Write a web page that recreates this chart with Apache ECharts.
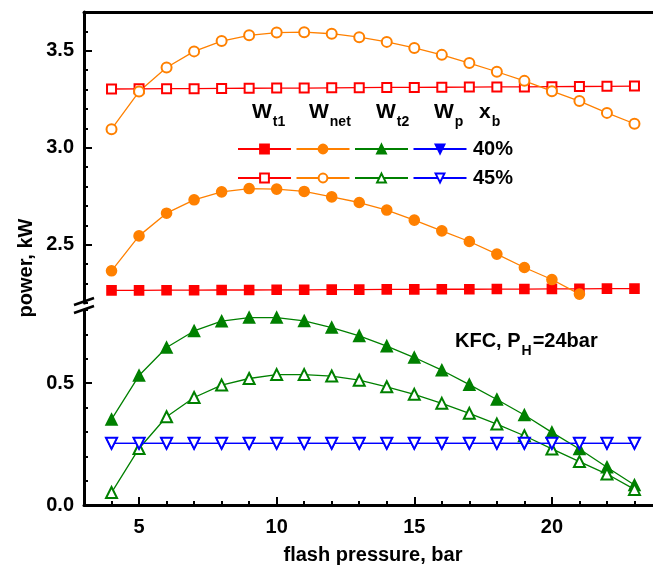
<!DOCTYPE html>
<html>
<head>
<meta charset="utf-8">
<script src="https://cdn.jsdelivr.net/npm/echarts@6/dist/echarts.min.js"></script>
<style>
html, body { margin: 0; padding: 0; background: #fff; }
#main { width: 653px; height: 579px; }
</style>
</head>
<body>
<div id="main"></div>
<script>
// flash pressure, bar
var pressure = [4, 5, 6, 7, 8, 9, 10, 11, 12, 13, 14, 15, 16, 17, 18, 19, 20, 21, 22, 23];

// upper panel (kW)
var wt1_40 = [2.265, 2.265, 2.266, 2.266, 2.267, 2.267, 2.268, 2.268, 2.269, 2.269, 2.270, 2.270, 2.271, 2.271, 2.272, 2.272, 2.273, 2.273, 2.274, 2.274];
var wt1_45 = [3.303, 3.304, 3.305, 3.305, 3.306, 3.307, 3.308, 3.308, 3.309, 3.310, 3.311, 3.311, 3.312, 3.313, 3.314, 3.314, 3.315, 3.316, 3.317, 3.318];
var wnet_40 = [2.366, 2.546, 2.663, 2.732, 2.773, 2.790, 2.787, 2.775, 2.747, 2.718, 2.679, 2.627, 2.572, 2.517, 2.452, 2.383, 2.321, 2.246];
var wnet_45 = [3.096, 3.290, 3.414, 3.497, 3.550, 3.580, 3.594, 3.596, 3.588, 3.570, 3.546, 3.515, 3.479, 3.437, 3.392, 3.345, 3.292, 3.241, 3.180, 3.124];

// lower panel (kW)
var wt2_40 = [0.351, 0.531, 0.646, 0.714, 0.754, 0.769, 0.769, 0.755, 0.728, 0.694, 0.652, 0.605, 0.553, 0.494, 0.433, 0.369, 0.298, 0.230, 0.155, 0.082];
var wt2_45 = [0.051, 0.232, 0.362, 0.441, 0.492, 0.519, 0.535, 0.535, 0.529, 0.512, 0.485, 0.454, 0.417, 0.376, 0.332, 0.284, 0.230, 0.178, 0.127, 0.064];
var wp_40 = [0.253, 0.253, 0.253, 0.253, 0.253, 0.253, 0.253, 0.253, 0.253, 0.253, 0.253, 0.253, 0.253, 0.253, 0.253, 0.253, 0.253, 0.253, 0.253, 0.253];
var wp_45 = [0.253, 0.253, 0.253, 0.253, 0.253, 0.253, 0.253, 0.253, 0.253, 0.253, 0.253, 0.253, 0.253, 0.253, 0.253, 0.253, 0.253, 0.253, 0.253, 0.253];

var xTicks = [5, 10, 15, 20];
var yTicksTop = [2.5, 3.0, 3.5];
var yTicksBottom = [0, 0.5];

var FONT = 'Liberation Sans, Arial, sans-serif';
var RED = '#ff0000', ORANGE = '#ff8000', GREEN = '#008000', BLUE = '#0000ff';

var ctx = document.createElement('canvas').getContext('2d');
function textW(t, font) {
    ctx.font = font;
    return ctx.measureText(t).width;
}

function pairs(ys) {
    return ys.map(function (y, i) { return [pressure[i], y]; });
}

function line(name, ys, grid, color, symbol, size, rotate) {
    return {
        name: name,
        type: 'line',
        xAxisIndex: grid,
        yAxisIndex: grid * 2,
        data: pairs(ys),
        symbol: symbol,
        symbolSize: size,
        symbolRotate: rotate || 0,
        showAllSymbol: true,
        lineStyle: { color: color, width: 1.3 },
        itemStyle: { color: color, borderColor: color, borderWidth: 1.6 },
        emphasis: { disabled: true }
    };
}

var labelStyle = { color: '#000', fontFamily: FONT, fontWeight: 'bold', fontSize: 20 };

function yAxes(grid, min, max, ticks) {
    return [{
        type: 'value', gridIndex: grid, min: min, max: max, interval: 0.1,
        axisLine: { show: true, onZero: false, lineStyle: { color: '#000', width: 3 } },
        axisTick: { show: true, inside: true, length: 4, lineStyle: { color: '#000', width: 2 } },
        axisLabel: Object.assign({ customValues: ticks, margin: 10, formatter: function (v) { return v.toFixed(1); } }, labelStyle),
        splitLine: { show: false }
    }, {
        type: 'value', gridIndex: grid, min: min, max: max, position: 'left',
        axisLine: { show: false },
        axisTick: { show: true, inside: true, length: 8, customValues: ticks, lineStyle: { color: '#000', width: 2 } },
        axisLabel: { show: false },
        splitLine: { show: false }
    }];
}

// text with a subscript, parts placed one after another
function subText(x, y, main, s, tail, big, small) {
    var bigFont = 'bold ' + big + 'px ' + FONT;
    var smallFont = 'bold ' + small + 'px ' + FONT;
    var out = [
        { type: 'text', x: x, y: y, style: { text: main, font: bigFont, fill: '#000', verticalAlign: 'middle' } }
    ];
    var x2 = x + textW(main, bigFont) + 1;
    out.push({ type: 'text', x: x2, y: y + 10, style: { text: s, font: smallFont, fill: '#000', verticalAlign: 'middle' } });
    if (tail) {
        var x3 = x2 + textW(s, smallFont) + 1;
        out.push({ type: 'text', x: x3, y: y, style: { text: tail, font: bigFont, fill: '#000', verticalAlign: 'middle' } });
    }
    return out;
}

var myChart = echarts.init(document.getElementById('main'));

var graphics = [
    { type: 'text', x: 26, y: 268, rotation: Math.PI / 2,
      style: { text: 'power, kW', font: 'bold 20px ' + FONT, fill: '#000', align: 'center', verticalAlign: 'middle' } },
    { type: 'text', x: 473, y: 149, style: { text: '40%', font: 'bold 20px ' + FONT, fill: '#000', verticalAlign: 'middle' } },
    { type: 'text', x: 473, y: 178, style: { text: '45%', font: 'bold 20px ' + FONT, fill: '#000', verticalAlign: 'middle' } },
    // axis break marks
    { type: 'rect', shape: { x: 80, y: 302, width: 8, height: 9 }, style: { fill: '#fff' } },
    { type: 'line', shape: { x1: 74, y1: 305, x2: 94, y2: 298 }, style: { stroke: '#000', lineWidth: 2.5 } },
    { type: 'line', shape: { x1: 74, y1: 313, x2: 94, y2: 306 }, style: { stroke: '#000', lineWidth: 2.5 } }
];
graphics = graphics
    .concat(subText(455, 341, 'KFC, P', 'H', '=24bar', 20, 14))
    .concat(subText(252, 112, 'W', 't1', '', 21, 14))
    .concat(subText(309, 112, 'W', 'net', '', 21, 14))
    .concat(subText(376, 112, 'W', 't2', '', 21, 14))
    .concat(subText(434, 112, 'W', 'p', '', 21, 14))
    .concat(subText(479, 112, 'x', 'b', '', 21, 14));

function legendRow(names, top) {
    return {
        data: names, left: 237, top: top, orient: 'horizontal', padding: 0,
        itemWidth: 53, itemHeight: 11, itemGap: 3.5, selectedMode: false,
        formatter: function () { return ''; },
        textStyle: { fontSize: 1 }
    };
}

myChart.setOption({
    backgroundColor: '#ffffff',
    animation: false,
    grid: [
        { left: 84, right: -9, top: 12, height: 291, outerBoundsMode: 'none' },
        { left: 84, right: -9, top: 310, height: 195, outerBoundsMode: 'none' }
    ],
    legend: [
        legendRow(['Wt1 40%', 'Wnet 40%', 'Wt2 40%', 'Wp 40%'], 143.5),
        legendRow(['Wt1 45%', 'Wnet 45%', 'Wt2 45%', 'Wp 45%'], 172.5)
    ],
    xAxis: [{
        type: 'value', gridIndex: 0, min: 3, max: 24, position: 'top',
        axisLine: { show: true, onZero: false, lineStyle: { color: '#000', width: 3 } },
        axisTick: { show: false }, axisLabel: { show: false }, splitLine: { show: false }
    }, {
        type: 'value', gridIndex: 1, min: 3, max: 24, interval: 1, position: 'bottom',
        name: 'flash pressure, bar', nameLocation: 'middle', nameGap: 40,
        nameTextStyle: { color: '#000', fontFamily: FONT, fontWeight: 'bold', fontSize: 20 },
        axisLine: { show: true, onZero: false, lineStyle: { color: '#000', width: 3 } },
        axisTick: { show: true, inside: true, length: 4, lineStyle: { color: '#000', width: 2 } },
        axisLabel: Object.assign({ customValues: xTicks, margin: 12 }, labelStyle),
        splitLine: { show: false }
    }, {
        type: 'value', gridIndex: 1, min: 3, max: 24, position: 'bottom',
        axisLine: { show: false },
        axisTick: { show: true, inside: true, length: 8, customValues: xTicks, lineStyle: { color: '#000', width: 2 } },
        axisLabel: { show: false }, splitLine: { show: false }
    }],
    yAxis: yAxes(0, 2.2, 3.7, yTicksTop).concat(yAxes(1, 0, 0.8, yTicksBottom)),
    series: [
        line('Wt1 40%', wt1_40, 0, RED, 'rect', 9),
        line('Wt1 45%', wt1_45, 0, RED, 'emptyRect', 9),
        line('Wnet 40%', wnet_40, 0, ORANGE, 'circle', 10),
        line('Wnet 45%', wnet_45, 0, ORANGE, 'emptyCircle', 10),
        line('Wt2 40%', wt2_40, 1, GREEN, 'triangle', 11),
        line('Wt2 45%', wt2_45, 1, GREEN, 'emptyTriangle', 11),
        line('Wp 40%', wp_40, 1, BLUE, 'triangle', 11, 180),
        line('Wp 45%', wp_45, 1, BLUE, 'emptyTriangle', 11, 180)
    ],
    graphic: graphics
});
</script>
</body>
</html>
